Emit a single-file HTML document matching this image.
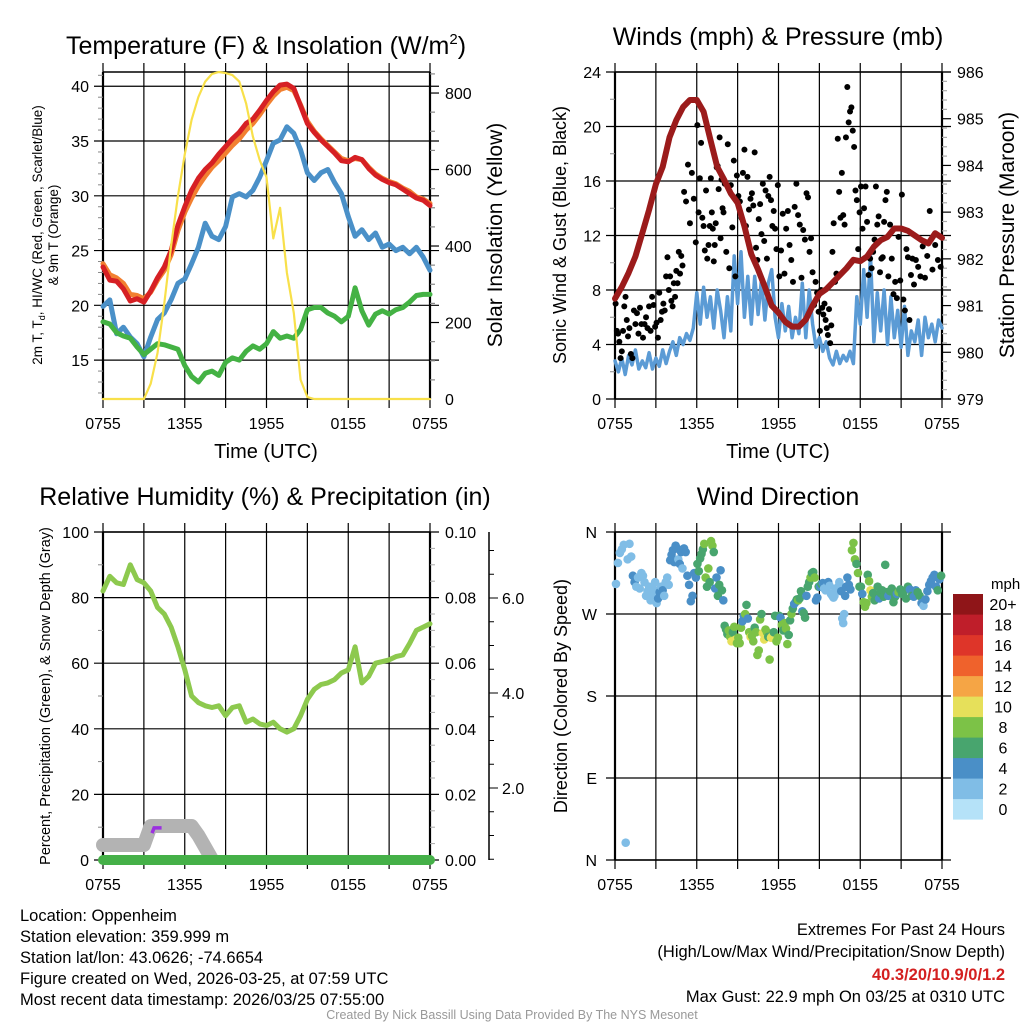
<!DOCTYPE html>
<html><head><meta charset="utf-8"><style>
html,body{margin:0;padding:0;background:#fff;}
svg{display:block;font-family:"Liberation Sans",Arial,sans-serif;}
</style></head><body>
<svg id="chart" width="1024" height="1024" viewBox="0 0 1024 1024" xmlns="http://www.w3.org/2000/svg">
<rect width="1024" height="1024" fill="#fff"/>
<g id="p1"></g>
<g id="p2"></g>
<g id="p3"></g>
<g id="p4"></g>
<g font-size="16.5" fill="#000">
<text x="20" y="921">Location: Oppenheim</text>
<text x="20" y="942">Station elevation: 359.999 m</text>
<text x="20" y="963">Station lat/lon: 43.0626; -74.6654</text>
<text x="20" y="984">Figure created on Wed, 2026-03-25, at 07:59 UTC</text>
<text x="20" y="1005">Most recent data timestamp: 2026/03/25 07:55:00</text>
<text x="1005" y="935" text-anchor="end">Extremes For Past 24 Hours</text>
<text x="1005" y="957" text-anchor="end">(High/Low/Max Wind/Precipitation/Snow Depth)</text>
<text x="1005" y="980" text-anchor="end" fill="#d42020" font-weight="bold">40.3/20/10.9/0/1.2</text>
<text x="1005" y="1002" text-anchor="end">Max Gust: 22.9 mph On 03/25 at 0310 UTC</text>
<text x="512" y="1019" text-anchor="middle" font-size="12.5" fill="#999">Created By Nick Bassill Using Data Provided By The NYS Mesonet</text>
</g>
</svg>
<script>
// ---- shared data ----
const xTickLabels = ["0755","1355","1955","0155","0755"];
// Panel 1 (0.5h steps, 0..24h)
const tempRed = [23.5,22.3,22.2,21.5,20.4,20.6,20.3,21.3,22.5,23.5,25.0,27.3,29.0,30.5,31.6,32.4,33.0,33.8,34.5,35.2,35.8,36.6,37.0,37.8,38.7,39.5,40.1,40.2,39.8,38.2,36.6,35.8,35.1,34.5,33.9,33.2,33.1,33.5,33.3,32.5,31.9,31.5,31.2,31.0,30.6,30.2,29.8,29.6,29.1];
const temp9m = [23.8,22.8,22.5,22.0,21.0,20.9,20.6,21.2,22.3,23.2,24.6,26.8,28.5,29.8,30.9,31.8,32.6,33.2,33.9,34.6,35.2,36.0,36.6,37.4,38.3,39.1,39.7,39.9,39.6,38.3,36.8,35.9,35.2,34.6,34.0,33.4,33.2,33.4,33.3,32.6,32.0,31.6,31.3,31.1,30.7,30.4,29.9,29.7,29.3];
const windChill = [19.9,20.5,17.4,18.0,17.1,16.5,15.3,17.1,18.7,19.3,20.5,22.0,22.4,23.8,25.3,27.5,26.3,26.0,27.2,29.9,30.2,29.9,30.5,31.7,33.2,34.8,35.1,36.3,35.7,34.2,32.1,31.4,32.1,32.4,31.2,30.2,28.1,26.3,26.9,26.0,26.6,25.3,25.6,25.0,25.3,24.7,25.3,24.4,23.2];
const dewPoint = [18.5,18.3,17.5,17.2,17.0,16.2,15.5,16.0,16.5,16.4,16.2,16.0,14.5,13.5,13.0,13.8,14.0,13.6,14.8,15.2,15.0,15.8,16.3,16.0,16.5,17.6,17.0,17.2,17.0,17.8,19.6,19.8,19.8,19.3,19.0,18.5,19.0,21.6,19.5,18.2,19.2,19.5,19.2,19.6,19.8,20.3,20.9,21.0,21.0];
const solar = [0,0,0,0,0,0,0,40,120,250,400,530,640,730,790,830,850,855,852,847,830,773,686,625,580,420,500,330,225,50,5,0,0,0,0,0,0,0,0,0,0,0,0,0,0,0,0,0,0];
const p1LeftTicks = [15,20,25,30,35,40];
const p1RightTicks = [0,200,400,600,800];
// Panel 2 (wind at 0.25h steps, pressure at 0.5h)
const windSpeed = [2.8,2.0,3.0,1.8, 3.2,2.5,3.6,2.2, 2.8,2.3,3.4,2.2, 3.0,2.4,3.6,2.6,
 3.5,4.2,3.2,4.5, 4.0,4.8,4.3,5.2,
 7.8,5.5,8.2,6.0, 7.5,5.2,8.0,6.5,
 4.5,7.5,5.0,10.5, 7.0,10.8,6.0,9.0,
 5.5,9.0,6.2,8.8, 5.8,8.5,9.5,6.0,
 4.5,7.0,5.0,6.8, 4.5,6.0,4.8,8.5,
 4.5,8.0,5.5,3.8, 4.5,3.5,4.2,3.0,
 2.5,3.5,2.6,3.2, 2.8,3.5,2.6,7.5,
 5.5,9.5,6.0,10.5, 4.2,7.8,5.0,8.0,
 4.0,7.5,4.5,6.5, 3.8,6.8,3.2,5.0,
 4.2,5.8,3.2,6.0, 4.5,5.5,4.2,5.8, 5.2];
const pressure = [981.15,981.4,981.7,982.05,982.55,983.05,983.6,983.97,984.6,984.97,985.25,985.4,985.4,985.15,984.55,983.97,983.7,983.4,983.2,982.7,982.1,981.77,981.4,981.0,980.85,980.65,980.55,980.55,980.7,981.0,981.25,981.35,981.5,981.65,981.8,981.98,981.95,982.05,982.26,982.4,982.47,982.65,982.65,982.6,982.5,982.4,982.33,982.55,982.45];
const gustByHour = [
[7,5,4.8,4.2,3,3.5,5,6.8,7.5,5.8,4.6],[5.2,3.3,3,6.5,5.5,6.3,4.8,6.7,5.5],[4.5,5.5,6.0,5.2,6.8,5.0,7.5,6.9,5.3],
[5.6,4.5,7.8,5.8,6.4,7.0,6.5,9.0,10.4,8.0],[9.0,7.2,6.8,8.5,7.5,9.4,8.5,10.8,9.2,10.5,9.8],[15.2,14.5,17.2,12.9,16.6,14.7,11.5],
[20.1,13.7,16.2,18.8,13.3,12.7,10.9,15.3,10.3,11.3,12.7],[16.2,13.7,12.5,10.1,11.3,12.9,17.0,17.1,15.4,19.2,11.8,16.1,14.0,13.7],
[15.8,10.8,18.7,9.6,15.7,12.6,17.5,9.0,16.4],[14.9,14.5,13.3,16.6,18.3,12.7,16.3,13.9,14.7],[15.1,14.2,18.1,11.1,10.2,13.2,14.3,12.1,15.8,11.6],
[15.3,10.3,14.9,16.3,14.6,12.7,13.8,12.5,11.0,15.7],[9.0,10.9,13.6,9.2,12.5,13.8,11.3,10.2],[8.6,14.1,15.8,13.5,12.8,8.9,12.4,11.7],
[15.1,14.8,10.8,11.8,9.3,6.9,8.6,7.8,6.4],[5.0,8.0,6.7,6.2,7.0,5.8,5.2,4.7,6.6,4.1,5.4,10.8],[12.9,8.6,9.2,19.1,15.2,13.3,16.6,13.5,12.8,19.2],
[22.9,20.3,21.1,21.4,19.7,18.5,15.3,14.6,11.0,13.7],[15.6,12.5,14.0,15.6,13.0,9.1,10.3,9.6,10.8],[11.7,15.6,12.8,13.4,9.3,10.3,10.4,13.0,14.6,15.2],
[9.0,12.8,10.3,7.7,8.6,7.4,11.9,8.7],[15.0,7.3,6.5,11.0,10.4,5.8,9.1,10.3,8.4],[10.2,9.7,9.0,11.2,8.9,10.5],[13.8,9.5,11.3,10.2,9.7]];
const p2LeftTicks = [0,4,8,12,16,20,24];
const p2RightTicks = [979,980,981,982,983,984,985,986];
// Panel 3
const relHum = [82,86.5,84.5,84,90,85.5,84.5,82,77,75,71,65,58,50,48,47,46.5,47,44,46.5,47,42,43,41.5,41,42,40,39,40,44,49,52,53.5,54,55,57,58,65,54,56,60,60.5,61,62,62.5,66,70,71,72];
const snowDepth = [0.8,0.8,0.8,0.8,0.8,0.8,0.8,1.2,1.2,1.2,1.2,1.2,1.2,1.2,1.0,0.75,0.5,0.0,0.0];
const precipTotal = [0,0,0,0,0,0,0,0,0,0,0,0,0,0,0,0,0,0,0,0,0,0,0,0,0];
const purpleHours = [3.6,3.75,4.3];
const purpleVals = [8.2,9.8,9.8];
const p3LeftTicks = [0,20,40,60,80,100];
const p3RightTicks = ["0.00","0.02","0.04","0.06","0.08","0.10"];
const snowTicks = ["2.0","4.0","6.0"];
// Panel 4
const dirByHour = [
[303,326,337,341,346,19,330],[347,333,312,305,300,310,298,315],[312,305,290,295,300,285,291,297,305],
[282,287,294,300,296,290,305,310,302],[329,335,340,327,345,342,330,325,338,320],[342,338,312,302,284,290,315,310],
[325,317,331,336,341,347,310,300,320,305],[350,345,338,298,310,290,302,318,296,285],[257,253,248,252,245,240,250,256,242,238],
[244,238,255,262,268,270,280,265,250,245],[246,240,255,250,225,230,264,270,249,242],[253,250,245,220,244,246,250,268,240,244],
[268,266,258,252,260,254,237,247,263,270],[276,281,283,286,285,287,295,273,271,266],[290,300,305,310,315,316,310,285,288,300],
[300,303,304,298,296,300,305,301,292,290],[288,290,298,298,296,300,305,300,295,265,260,270,290,300],[310,302,297,340,348,330,325,315,300],
[300,292,283,278,282,313,306,296,289,293],[285,290,300,287,293,296,289,324,294],[290,295,298,283,289,292,294,297],
[292,295,287,300,297,290,289],[296,294,290,282,279,286,295],[302,306,310,313,300,296,308,312]];
const spdByHour = [
[2,2,2,2,2,2,2],[2,2,4,4,2,2,2,3],[2,2,2,2,2,2,2,3,2],
[2,4,4,2,4,2,2,2,2],[4,4,4,4,5,4,2,4,4,3],[4,4,5,5,5,4,4,5],
[7,6,7,6,6,9,9,6,8,7],[9,9,6,4,4,6,6,4,6,5],[6,6,6,8,8,10,6,8,10,8],
[8,8,8,4,4,8,6,4,8,10],[8,8,6,8,8,8,8,6,10,10],[8,8,6,8,10,10,6,6,8,8],
[6,4,8,6,8,8,8,6,6,8],[6,4,4,6,8,6,6,4,6,6],[4,6,6,8,6,6,8,4,4,6],
[4,6,4,2,2,2,4,2,2,2],[2,2,2,2,2,2,2,2,4,2,2,2,4,4],[4,4,4,8,8,8,6,8,6],
[6,4,8,8,8,6,8,10,8,6],[6,6,6,4,6,6,6,6,6],[4,6,6,6,6,4,8,6],
[6,6,6,6,4,6,4],[4,6,6,4,2,4,4],[4,4,4,4,4,6,4,6]];
const dirLabels = ["N","E","S","W","N"];
const dirTickDegs = [0,90,180,270,360];
const cbLabels = ["0","2","4","6","8","10","12","14","16","18","20+"];
const cbColors = ["#b5e2f8","#80bde6","#4a8fc7","#48a56e","#7cc247","#e6e05a","#f5a545","#ef622c","#de3529","#bf1e2a","#8f1518"];

const NS="http://www.w3.org/2000/svg";
function el(parent,tag,attrs,text){const e=document.createElementNS(NS,tag);for(const k in attrs)e.setAttribute(k,attrs[k]);if(text!==undefined)e.textContent=text;parent.appendChild(e);return e;}

function mkX(x0,x1){return h=>x0+h*(x1-x0)/24;}
function mkY(y0,y1,v0,v1){return v=>y1-(v-v0)*(y1-y0)/(v1-v0);}

function frame(g,x0,x1,y0,y1,gridYs){
  const X=mkX(x0,x1);
  for(let i=0;i<=8;i++){const x=X(i*3);
    const l=el(g,'line',{x1:x,x2:x,y1:y0-9,y2:y1+9,stroke:'#000','stroke-width':1.2});
    
    }
  gridYs.forEach(y=>{const l=el(g,'line',{x1:x0-9,x2:x1+9,y1:y,y2:y,stroke:'#000','stroke-width':1.2});
    
    });
  el(g,'line',{x1:x0,x2:x0,y1:y0,y2:y1,stroke:'#000','stroke-width':2.2});
  el(g,'line',{x1:x1,x2:x1,y1:y0,y2:y1,stroke:'#000','stroke-width':2.2});
  el(g,'line',{x1:x0,x2:x1,y1:y0,y2:y0,stroke:'#000','stroke-width':1.5});
  el(g,'line',{x1:x0,x2:x1,y1:y1,y2:y1,stroke:'#000','stroke-width':1.5});
  xTickLabels.forEach((s,i)=>{const t=el(g,'text',{x:X(i*6),y:y1+30,'text-anchor':'middle','font-size':16},s);
    
    });
}
function line(g,vals,X,Y,color,w,name,step){
  const pts=vals.map((v,i)=>X(i*step).toFixed(1)+','+Y(v).toFixed(1)).join(' ');
  const p=el(g,'polyline',{points:pts,fill:'none',stroke:color,'stroke-width':w,'stroke-linejoin':'round','stroke-linecap':'round'});
  
  
  return p;
}
function rot(g,x,y,size,txt,name){const t=el(g,'text',{x:x,y:y,'text-anchor':'middle','font-size':size,transform:`rotate(-90 ${x} ${y})`},txt);
  
  return t;}

// ---------- Panel 1 ----------
(function(){
  const g=document.getElementById('p1');
  const x0=103,x1=430,y0=72,y1=399;
  const X=mkX(x0,x1), Y=mkY(y0,y1,11.45,41.3), YS=mkY(y0,y1,0,855);
  frame(g,x0,x1,y0,y1,p1LeftTicks.map(Y));
  for(let v=12;v<=41;v++){if(v%5)el(g,'line',{x1:x0-5,x2:x0,y1:Y(v),y2:Y(v),stroke:'#888','stroke-width':1});}
  for(let v=50;v<=850;v+=50){el(g,'line',{x1:x1,x2:x1+(v%200?5:9),y1:YS(v),y2:YS(v),stroke:v%200?'#888':'#000','stroke-width':1.2});}
  p1LeftTicks.forEach(v=>{const t=el(g,'text',{x:x0-14,y:Y(v)+6,'text-anchor':'end','font-size':16},String(v));
    
    });
  p1RightTicks.forEach(v=>{const t=el(g,'text',{x:x1+15,y:YS(v)+6,'font-size':16},String(v));
    
    });
  line(g,temp9m,X,Y,'#f28030',5,'temp-9m-line',0.5);
  line(g,tempRed,X,Y,'#d62024',5,'temp-2m-line',0.5);
  line(g,windChill,X,Y,'#4a90c8',5,'wind-chill-line',0.5);
  line(g,dewPoint,X,Y,'#44b244',5,'dewpoint-line',0.5);
  line(g,solar,X,YS,'#f8e04a',2.2,'solar-line',0.5);
  const t=el(g,'text',{x:266,y:54,'text-anchor':'middle','font-size':25});
  t.innerHTML='Temperature (F) &amp; Insolation (W/m<tspan font-size="15" dy="-10">2</tspan><tspan dy="10">)</tspan>';
  
  
  const a=el(g,'text',{x:266,y:458,'text-anchor':'middle','font-size':20},'Time (UTC)');
  
  
  const yt=el(g,'text',{x:42,y:235,'text-anchor':'middle','font-size':13.5,transform:'rotate(-90 42 235)'});
  yt.innerHTML='2m T, T<tspan font-size="9" dy="3">d</tspan><tspan dy="-3">, HI/WC (Red, Green, Scarlet/Blue)</tspan>';
  
  
  rot(g,58,235,13.5,'& 9m T (Orange)','y-axis-title-line2');
  rot(g,502,235,21,'Solar Insolation (Yellow)','right-axis-title');
})();

// ---------- Panel 2 ----------
(function(){
  const g=document.getElementById('p2');
  const x0=615,x1=942,y0=72,y1=399;
  const X=mkX(x0,x1), Y=mkY(y0,y1,0,24), YP=mkY(y0,y1,979,986);
  frame(g,x0,x1,y0,y1,p2LeftTicks.map(Y));
  for(let v=2;v<24;v+=4){el(g,'line',{x1:x0-5,x2:x0,y1:Y(v),y2:Y(v),stroke:'#888','stroke-width':1});}
  for(let v=979;v<=986.001;v+=0.2){const maj=Math.abs(v-Math.round(v))<0.01;el(g,'line',{x1:x1,x2:x1+(maj?9:5),y1:YP(v),y2:YP(v),stroke:maj?'#000':'#aaa','stroke-width':1.2});}
  p2LeftTicks.forEach(v=>{const t=el(g,'text',{x:x0-14,y:Y(v)+6,'text-anchor':'end','font-size':16},String(v));
    
    });
  p2RightTicks.forEach(v=>{const t=el(g,'text',{x:x1+15,y:YP(v)+6,'font-size':16},String(v));
    
    });
  line(g,windSpeed,X,Y,'#5b9bd5',3.5,'sonic-wind-line',0.25);
  gustByHour.forEach((arr,h)=>arr.forEach((v,i)=>{
    const c=el(g,'circle',{cx:X(h+(i+0.5)/arr.length),cy:Y(v),r:3,fill:'#000'});
    
    }));
  line(g,pressure,X,YP,'#9b1b1b',6,'pressure-line',0.5);
  const t=el(g,'text',{x:778,y:45,'text-anchor':'middle','font-size':25},'Winds (mph) & Pressure (mb)');
  
  
  const a=el(g,'text',{x:778,y:458,'text-anchor':'middle','font-size':20},'Time (UTC)');
  
  
  rot(g,566,235,18,'Sonic Wind & Gust (Blue, Black)','y-axis-title');
  rot(g,1014,235,21,'Station Pressure (Maroon)','right-axis-title');
})();

// ---------- Panel 3 ----------
(function(){
  const g=document.getElementById('p3');
  const x0=103,x1=430,y0=532,y1=860;
  const X=mkX(x0,x1), Y=mkY(y0,y1,0,100), YSn=v=>883-47.5*v;
  frame(g,x0,x1,y0,y1,p3LeftTicks.map(Y));
  for(let v=10;v<100;v+=20){el(g,'line',{x1:x0-5,x2:x0,y1:Y(v),y2:Y(v),stroke:'#888','stroke-width':1});}
  for(let v=5;v<100;v+=5){if(v%20)el(g,'line',{x1:x1,x2:x1+5,y1:Y(v),y2:Y(v),stroke:'#aaa','stroke-width':1});}
  p3LeftTicks.forEach(v=>{const t=el(g,'text',{x:x0-14,y:Y(v)+6,'text-anchor':'end','font-size':16},String(v));
    
    });
  p3RightTicks.forEach((s,i)=>{const t=el(g,'text',{x:x1+15,y:Y(i*20)+6,'font-size':16},s);
    
    });
  el(g,'line',{x1:489,x2:489,y1:532,y2:860,stroke:'#000','stroke-width':1.5});
  for(let v=0.5;v<=7;v+=0.5){const y=YSn(v);if(y>=532&&y<=860)el(g,'line',{x1:489,x2:489+(v%2?5:9),y1:y,y2:y,stroke:'#000','stroke-width':1});}
  snowTicks.forEach((s,i)=>{const t=el(g,'text',{x:502,y:YSn((i+1)*2)+6,'font-size':16},s);
    
    });
  const cp=el(g,'clipPath',{id:'clip3'});
  el(cp,'rect',{x:90,y:520,width:350,height:342});
  const sn=line(g,snowDepth,X,YSn,'#b3b3b3',14,'snow-depth-line',0.5);sn.setAttribute('clip-path','url(#clip3)');
  const pp=el(g,'polyline',{points:purpleHours.map((h,i)=>X(h)+','+Y(purpleVals[i])).join(' '),fill:'none',stroke:'#9b30e0','stroke-width':3.5});
  
  
  line(g,precipTotal,X,Y,'#45b048',10,'precipitation-line',1);
  line(g,relHum,X,Y,'#8dc94e',5,'relative-humidity-line',0.5);
  const t=el(g,'text',{x:265,y:505,'text-anchor':'middle','font-size':25},'Relative Humidity (%) & Precipitation (in)');
  
  
  rot(g,50,696,14.5,'Percent, Precipitation (Green), & Snow Depth (Gray)','y-axis-title');
})();

// ---------- Panel 4 ----------
(function(){
  const g=document.getElementById('p4');
  const x0=615,x1=942,y0=532,y1=860;
  const X=mkX(x0,x1), Y=mkY(y0,y1,0,360);
  frame(g,x0,x1,y0,y1,dirTickDegs.map(Y));
  dirLabels.forEach((s,i)=>{const t=el(g,'text',{x:597,y:Y(dirTickDegs[i])+6,'text-anchor':'end','font-size':16},s);
    
    });
  dirByHour.forEach((arr,h)=>arr.forEach((d,i)=>{
    const s=spdByHour[h][i];const bin=Math.min(10,Math.floor(s/2));
    const c=el(g,'circle',{cx:X(h+(i+0.5)/arr.length),cy:Y(d),r:4.3,fill:cbColors[bin]});
    
    }));
  cbColors.forEach((c,i)=>{const y=594+(10-i)*20.5;
    const r=el(g,'rect',{x:953,y:y,width:30,height:20.6,fill:c});
    
    
    const t=el(g,'text',{x:1003,y:y+16,'text-anchor':'middle','font-size':16},cbLabels[i]);
    
    });
  const m=el(g,'text',{x:991,y:589,'font-size':15},'mph');
  
  
  const t=el(g,'text',{x:778,y:505,'text-anchor':'middle','font-size':25},'Wind Direction');
  
  
  rot(g,567,696,18,'Direction (Colored By Speed)','y-axis-title');
})();
</script>
</body></html>
